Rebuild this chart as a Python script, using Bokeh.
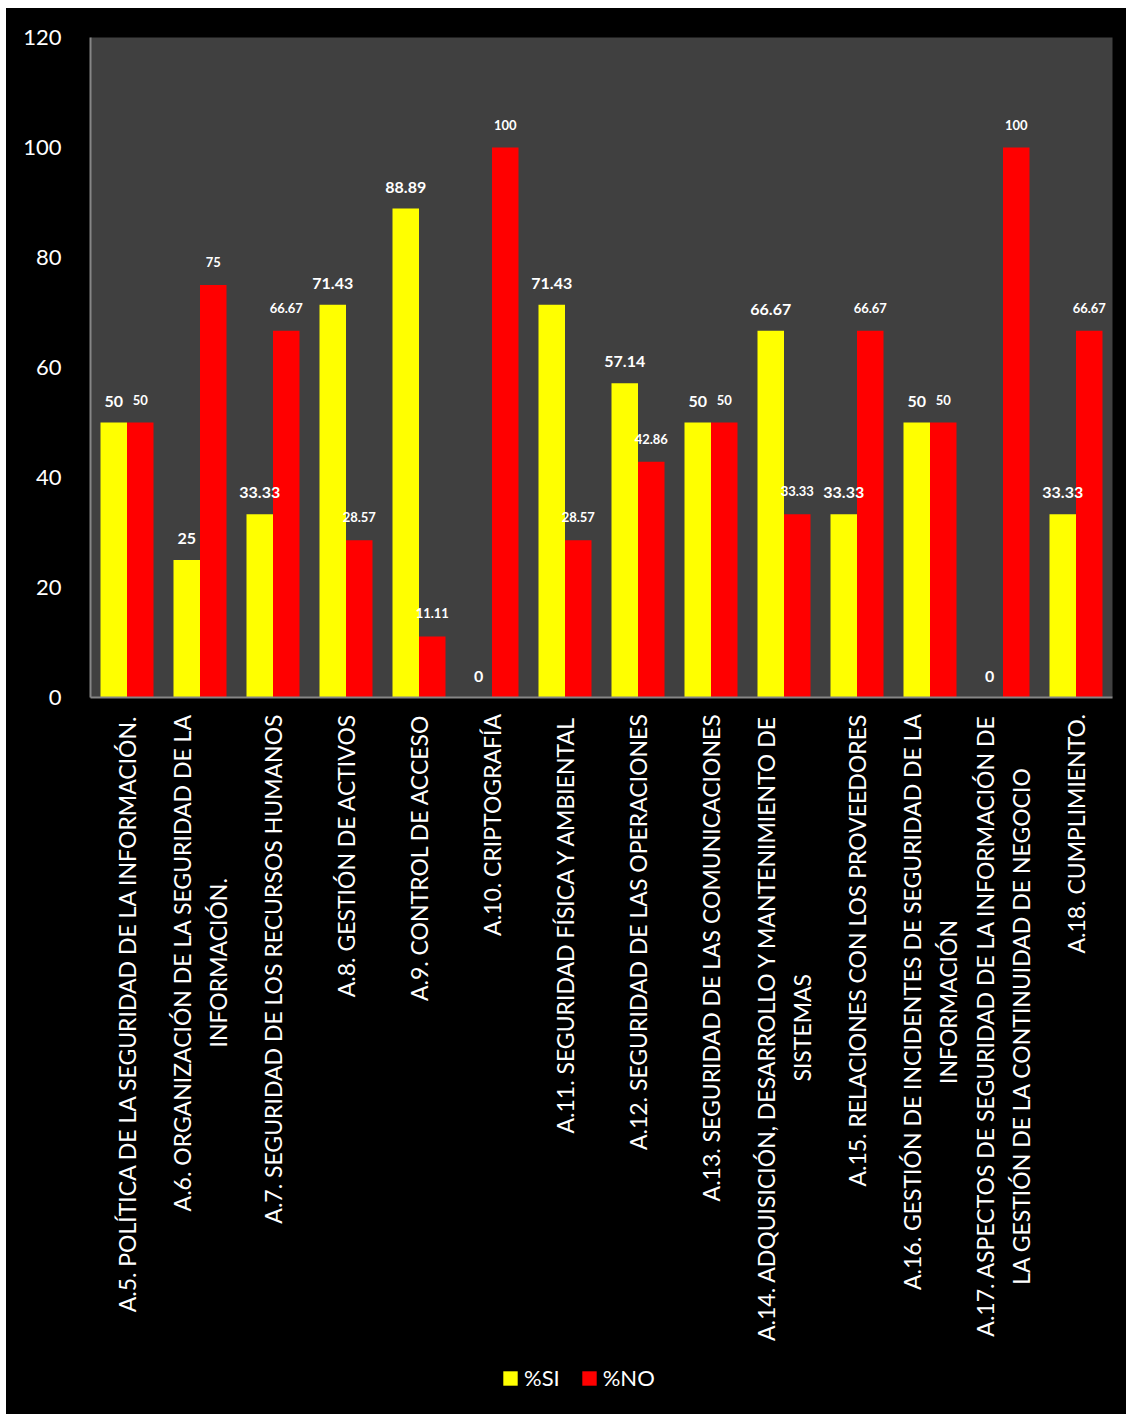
import glob, os, struct
from bokeh.plotting import figure
from bokeh.models import ColumnDataSource, FixedTicker, Legend, LegendItem, Range1d, Spacer
from bokeh.layouts import column, row
from bokeh.transform import dodge
from bokeh.core.properties import value
from bokeh.embed import file_html
from bokeh.resources import INLINE

categories = [
    "A.5. POLÍTICA DE LA SEGURIDAD DE LA INFORMACIÓN.",
    "A.6. ORGANIZACIÓN DE LA SEGURIDAD DE LA\nINFORMACIÓN.",
    "A.7. SEGURIDAD DE LOS RECURSOS HUMANOS",
    "A.8. GESTIÓN DE ACTIVOS",
    "A.9. CONTROL DE ACCESO",
    "A.10. CRIPTOGRAFÍA",
    "A.11. SEGURIDAD FÍSICA Y AMBIENTAL",
    "A.12. SEGURIDAD DE LAS OPERACIONES",
    "A.13. SEGURIDAD DE LAS COMUNICACIONES",
    "A.14. ADQUISICIÓN, DESARROLLO Y MANTENIMIENTO DE\nSISTEMAS",
    "A.15. RELACIONES CON LOS PROVEEDORES",
    "A.16. GESTIÓN DE INCIDENTES DE SEGURIDAD DE LA\nINFORMACIÓN",
    "A.17. ASPECTOS DE SEGURIDAD DE LA INFORMACIÓN DE\nLA GESTIÓN DE LA CONTINUIDAD DE NEGOCIO",
    "A.18. CUMPLIMIENTO.",
]
si_values = [50, 25, 33.33, 71.43, 88.89, 0, 71.43, 57.14, 50, 66.67, 33.33, 50, 0, 33.33]
no_values = [50, 75, 66.67, 28.57, 11.11, 100, 28.57, 42.86, 50, 33.33, 66.67, 50, 100, 66.67]
y_ticks = [0, 20, 40, 60, 80, 100, 120]
series_names = ["%SI", "%NO"]

FONT = "Lato"
LABEL_SIZE = 23
BW = 0.363


# ---- text width measurement (for centring the rotated multi-line category labels)
def _font_measurer(path):
    data = open(path, "rb").read()
    n_tables = struct.unpack(">H", data[4:6])[0]
    tables = {}
    for i in range(n_tables):
        tag, _cs, off, ln = struct.unpack(">4sIII", data[12 + 16 * i:28 + 16 * i])
        tables[tag.decode("latin1")] = off
    head = tables["head"]
    upem = struct.unpack(">H", data[head + 18:head + 20])[0]
    hhea = tables["hhea"]
    nhm = struct.unpack(">H", data[hhea + 34:hhea + 36])[0]
    hmtx = tables["hmtx"]
    adv = [struct.unpack(">H", data[hmtx + 4 * i:hmtx + 4 * i + 2])[0] for i in range(nhm)]
    cmap = tables["cmap"]
    nsub = struct.unpack(">H", data[cmap + 2:cmap + 4])[0]
    sub = None
    for i in range(nsub):
        pid, eid, off = struct.unpack(">HHI", data[cmap + 4 + 8 * i:cmap + 12 + 8 * i])
        s = cmap + off
        if struct.unpack(">H", data[s:s + 2])[0] == 4 and pid in (0, 3):
            sub = s
            break
    seg2 = struct.unpack(">H", data[sub + 6:sub + 8])[0]
    segc = seg2 // 2
    ends = struct.unpack(">%dH" % segc, data[sub + 14:sub + 14 + seg2])
    starts = struct.unpack(">%dH" % segc, data[sub + 16 + seg2:sub + 16 + 2 * seg2])
    deltas = struct.unpack(">%dh" % segc, data[sub + 16 + 2 * seg2:sub + 16 + 3 * seg2])
    ro = sub + 16 + 3 * seg2
    roffs = struct.unpack(">%dH" % segc, data[ro:ro + seg2])

    def gid(c):
        for k in range(segc):
            if starts[k] <= c <= ends[k]:
                if roffs[k] == 0:
                    return (c + deltas[k]) & 0xFFFF
                a = ro + 2 * k + roffs[k] + 2 * (c - starts[k])
                g = struct.unpack(">H", data[a:a + 2])[0]
                return (g + deltas[k]) & 0xFFFF if g else 0
        return 0

    def width(s, size):
        return sum(adv[min(gid(ord(ch)), nhm - 1)] for ch in s) * size / upem
    return width


def _find_font():
    pats = ["/usr/share/fonts/**/Lato-Regular.ttf", "/usr/local/share/fonts/**/Lato-Regular.ttf",
            os.path.expanduser("~/.fonts/**/Lato-Regular.ttf"), "/usr/share/fonts/**/Lato-Reg*.ttf"]
    for pt in pats:
        hits = glob.glob(pt, recursive=True)
        if hits:
            return hits[0]
    return None


try:
    measure = _font_measurer(_find_font())
except Exception:
    def measure(s, size):
        return len(s) * size * 0.55


def fmt(v):
    return str(int(v)) if float(v).is_integer() else f"{v:.2f}"


idx = list(range(len(categories)))
source = ColumnDataSource(dict(
    x=idx,
    si=si_values,
    no=no_values,
    si_lbl=[fmt(v) for v in si_values],
    no_lbl=[fmt(v) for v in no_values],
))

x_range = Range1d(-0.5, len(categories) - 0.5)

# ---------------- main chart
MAIN_H = 704
p = figure(
    width=1120, height=MAIN_H,
    x_range=x_range, y_range=Range1d(0, 120),
    output_backend="svg", toolbar_location=None,
    min_border_left=84, min_border_top=29, min_border_right=14, min_border_bottom=15,
)
p.background_fill_color = "#404040"
p.border_fill_color = "black"
p.outline_line_color = None
p.xgrid.grid_line_color = None
p.ygrid.grid_line_color = None

p.vbar(x=dodge("x", -BW / 2, range=x_range), top="si", width=BW, bottom=0,
       source=source, fill_color="#FFFF00", line_color=None)
p.vbar(x=dodge("x", BW / 2, range=x_range), top="no", width=BW, bottom=0,
       source=source, fill_color="#FF0000", line_color=None)

p.text(x=dodge("x", -BW / 2, range=x_range), y="si", text="si_lbl", source=source,
       text_align="center", text_baseline="bottom", y_offset=-16,
       text_color="white", text_font=value(FONT), text_font_style="bold",
       text_font_size="16px")
p.text(x=dodge("x", BW / 2, range=x_range), y="no", text="no_lbl", source=source,
       text_align="center", text_baseline="bottom", y_offset=-18,
       text_color="white", text_font=value(FONT), text_font_style="bold",
       text_font_size="13px")

p.xaxis.ticker = FixedTicker(ticks=[])
p.xaxis.major_tick_line_color = None
p.xaxis.minor_tick_line_color = None
p.xaxis.axis_line_color = "#868686"
p.xaxis.axis_line_width = 2

p.yaxis.ticker = FixedTicker(ticks=y_ticks)
p.yaxis.major_label_text_font = FONT
p.yaxis.major_label_text_font_size = "22px"
p.yaxis.major_label_text_color = "white"
p.yaxis.major_label_standoff = 23
p.yaxis.major_tick_line_color = None
p.yaxis.minor_tick_line_color = None
p.yaxis.axis_line_color = "#868686"
p.yaxis.axis_line_width = 2

# ---------------- category labels + legend panel
LAB_H = 1406 - MAIN_H
TOP_GAP = 1
p2 = figure(
    width=1120, height=LAB_H,
    x_range=x_range, y_range=Range1d(LAB_H, 0),
    x_axis_type=None, y_axis_type=None,
    output_backend="svg", toolbar_location=None,
    min_border_left=84, min_border_right=14, min_border_top=0, min_border_bottom=0,
)
p2.background_fill_color = "black"
p2.border_fill_color = "black"
p2.outline_line_color = None

lab_y = []
for c in categories:
    w = max(measure(line, LABEL_SIZE) for line in c.split("\n"))
    lab_y.append(TOP_GAP + w / 2)
lab_src = ColumnDataSource(dict(x=idx, y=lab_y, text=categories))
p2.text(x="x", y="y", text="text", source=lab_src, angle=1.5707963,
        text_align="center", text_baseline="middle", text_line_height=1.3,
        text_color="white", text_font=value(FONT), text_font_size=f"{LABEL_SIZE}px")

# zero-height bars: invisible, only give the legend its swatches
r_si_leg = p2.vbar(x="x", top=0, bottom=0, width=BW, source=source,
                   fill_color="#FFFF00", line_color=None)
r_no_leg = p2.vbar(x="x", top=0, bottom=0, width=BW, source=source,
                   fill_color="#FF0000", line_color=None)
legend = Legend(items=[LegendItem(label=series_names[0], renderers=[r_si_leg]),
                       LegendItem(label=series_names[1], renderers=[r_no_leg])],
                orientation="horizontal", location=(411, 23))
legend.background_fill_alpha = 0
legend.border_line_color = None
legend.label_text_color = "white"
legend.label_text_font = FONT
legend.label_text_font_size = "22px"
legend.glyph_width = 18
legend.glyph_height = 18
legend.spacing = 20
legend.label_standoff = 5
legend.padding = 5
legend.margin = 0
p2.add_layout(legend, "center")

inner = column(p, p2, spacing=0, styles={"background-color": "black"})
layout = column(Spacer(height=8),
                row(Spacer(width=6), inner, spacing=0),
                spacing=0)
open("out.html", "w").write(file_html(layout, INLINE))
